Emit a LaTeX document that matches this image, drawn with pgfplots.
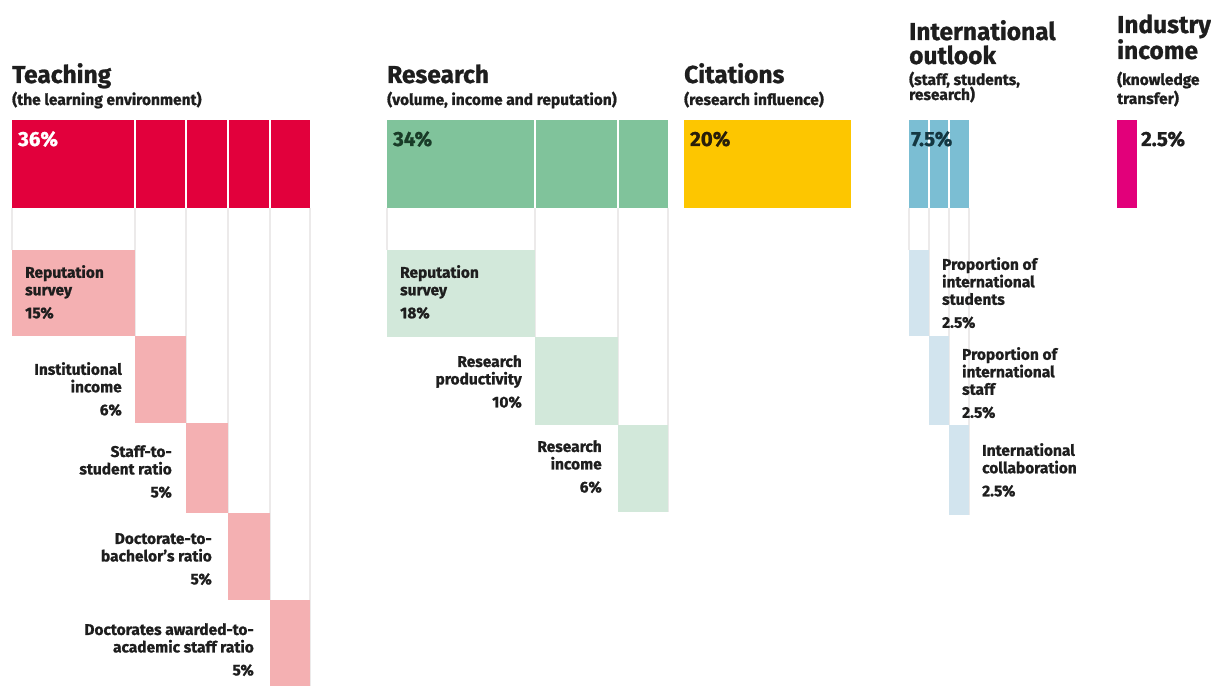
\documentclass[border=0pt]{standalone}
\usepackage{pgfplots}
\pgfplotsset{compat=1.18}
\usepackage{fontspec}
\setmainfont{Fira Sans}[BoldFeatures={FakeBold=1}]
\definecolor{tred}{RGB}{226,0,60}
\definecolor{tpink}{RGB}{244,176,178}
\definecolor{rgreen}{RGB}{128,195,155}
\definecolor{rlight}{RGB}{210,232,218}
\definecolor{cyel}{RGB}{253,198,0}
\definecolor{iblue}{RGB}{123,190,211}
\definecolor{ilight}{RGB}{210,228,238}
\definecolor{imag}{RGB}{226,0,122}
\definecolor{gridc}{RGB}{236,234,234}
\definecolor{txt}{RGB}{30,30,30}
\newcommand\tfont{\fontsize{24.5}{22}\selectfont\bfseries}
\newcommand\subfont{\fontsize{15.5}{16}\selectfont\bfseries}
\newcommand\lfont{\fontsize{15.5}{17.5}\selectfont\bfseries}
\newcommand\pfont{\fontsize{20.5}{20}\selectfont\bfseries}
% rectangle: x1 x2 y1 y2 colour
\newcommand\rect[5]{\addplot[fill=#5,draw=none] coordinates {(#1,#3) (#2,#3) (#2,#4) (#1,#4)} -- cycle;}
\begin{document}
\begin{tikzpicture}
\begin{axis}[width=1211pt,height=686pt,scale only axis,
  xmin=0,xmax=1211,ymin=0,ymax=686,y dir=reverse,hide axis,clip=false]
% grid lines below the main bars
\addplot[gridc,line width=1.2pt] coordinates {(12,208) (12,250)};
\addplot[gridc,line width=1.2pt] coordinates {(135,208) (135,336)};
\addplot[gridc,line width=1.2pt] coordinates {(186,208) (186,423)};
\addplot[gridc,line width=1.2pt] coordinates {(228,208) (228,513)};
\addplot[gridc,line width=1.2pt] coordinates {(270,208) (270,600)};
\addplot[gridc,line width=1.2pt] coordinates {(310,208) (310,686)};
\addplot[gridc,line width=1.2pt] coordinates {(387,208) (387,250)};
\addplot[gridc,line width=1.2pt] coordinates {(535,208) (535,337)};
\addplot[gridc,line width=1.2pt] coordinates {(618,208) (618,425)};
\addplot[gridc,line width=1.2pt] coordinates {(668,208) (668,512)};
\addplot[gridc,line width=1.2pt] coordinates {(909,208) (909,250)};
\addplot[gridc,line width=1.2pt] coordinates {(929,208) (929,336)};
\addplot[gridc,line width=1.2pt] coordinates {(949,208) (949,425)};
\addplot[gridc,line width=1.2pt] coordinates {(969,208) (969,515)};
% main bars
\rect{12}{310}{120}{208}{tred}
\rect{387}{668}{120}{208}{rgreen}
\rect{684}{851}{120}{208}{cyel}
\rect{909}{969}{120}{208}{iblue}
\rect{1117}{1137}{120}{208}{imag}
% separators in main bars
\addplot[white,line width=1.2pt] coordinates {(135,120) (135,208)};
\addplot[white,line width=1.2pt] coordinates {(186,120) (186,208)};
\addplot[white,line width=1.2pt] coordinates {(228,120) (228,208)};
\addplot[white,line width=1.2pt] coordinates {(270,120) (270,208)};
\addplot[white,line width=1.2pt] coordinates {(535,120) (535,208)};
\addplot[white,line width=1.2pt] coordinates {(618,120) (618,208)};
\addplot[white,line width=1.2pt] coordinates {(929,120) (929,208)};
\addplot[white,line width=1.2pt] coordinates {(949,120) (949,208)};
% teaching components
\rect{12}{135}{250}{336}{tpink}
\rect{135}{186}{336}{423}{tpink}
\rect{186}{228}{423}{513}{tpink}
\rect{228}{270}{513}{600}{tpink}
\rect{270}{310}{600}{686}{tpink}
% research components
\rect{387}{535}{250}{337}{rlight}
\rect{535}{618}{337}{425}{rlight}
\rect{618}{668}{425}{512}{rlight}
% international components
\rect{909}{929}{250}{336}{ilight}
\rect{929}{949}{336}{425}{ilight}
\rect{949}{969}{425}{515}{ilight}

% titles
\node[anchor=base west,font=\tfont,text=txt,inner sep=0] at (axis cs:12,83) {Teaching};
\node[anchor=base west,font=\subfont,text=txt,inner sep=0] at (axis cs:12,105) {(the learning environment)};
\node[anchor=base west,font=\tfont,text=txt,inner sep=0] at (axis cs:387,83) {Research};
\node[anchor=base west,font=\subfont,text=txt,inner sep=0] at (axis cs:387,105) {(volume, income and reputation)};
\node[anchor=base west,font=\tfont,text=txt,inner sep=0] at (axis cs:684,83) {Citations};
\node[anchor=base west,font=\subfont,text=txt,inner sep=0] at (axis cs:684,105) {(research influence)};
\node[anchor=base west,font=\tfont,text=txt,inner sep=0] at (axis cs:909,40) {International};
\node[anchor=base west,font=\tfont,text=txt,inner sep=0] at (axis cs:909,64) {outlook};
\node[anchor=base west,font=\subfont,text=txt,inner sep=0] at (axis cs:909,85) {(staff, students,};
\node[anchor=base west,font=\subfont,text=txt,inner sep=0] at (axis cs:909,100) {research)};
\node[anchor=base west,font=\tfont,text=txt,inner sep=0] at (axis cs:1117,33) {Industry};
\node[anchor=base west,font=\tfont,text=txt,inner sep=0] at (axis cs:1117,59) {income};
\node[anchor=base west,font=\subfont,text=txt,inner sep=0] at (axis cs:1117,85) {(knowledge};
\node[anchor=base west,font=\subfont,text=txt,inner sep=0] at (axis cs:1117,104) {transfer)};

% percentages in main bars
\node[anchor=base west,font=\pfont,text=white,inner sep=0] at (axis cs:18,146) {36\%};
\node[anchor=base west,font=\pfont,text={rgb,255:red,25;green,60;blue,40},inner sep=0] at (axis cs:393,146) {34\%};
\node[anchor=base west,font=\pfont,text={rgb,255:red,40;green,30;blue,10},inner sep=0] at (axis cs:690,146) {20\%};
\node[anchor=base west,font=\pfont,text={rgb,255:red,20;green,55;blue,65},inner sep=0] at (axis cs:911,146) {7.5\%};
\node[anchor=base west,font=\pfont,text=txt,inner sep=0] at (axis cs:1141,146) {2.5\%};

% teaching labels
\node[anchor=north west,align=left,font=\lfont,text=txt,inner sep=0] at (axis cs:25,265) {Reputation\\survey\\[5.5pt]15\%};
\node[anchor=north east,align=right,font=\lfont,text=txt,inner sep=0] at (axis cs:122,362) {Institutional\\income\\[5.5pt]6\%};
\node[anchor=north east,align=right,font=\lfont,text=txt,inner sep=0] at (axis cs:172,445) {Staff-to-\\student ratio\\[5.5pt]5\%};
\node[anchor=north east,align=right,font=\lfont,text=txt,inner sep=0] at (axis cs:212,533) {Doctorate-to-\\bachelor's ratio\\[5.5pt]5\%};
\node[anchor=north east,align=right,font=\lfont,text=txt,inner sep=0] at (axis cs:254,623) {Doctorates awarded-to-\\academic staff ratio\\[5.5pt]5\%};
% research labels
\node[anchor=north west,align=left,font=\lfont,text=txt,inner sep=0] at (axis cs:400,265) {Reputation\\survey\\[5.5pt]18\%};
\node[anchor=north east,align=right,font=\lfont,text=txt,inner sep=0] at (axis cs:522,355) {Research\\productivity\\[5.5pt]10\%};
\node[anchor=north east,align=right,font=\lfont,text=txt,inner sep=0] at (axis cs:602,440) {Research\\income\\[5.5pt]6\%};
% international labels
\node[anchor=north west,align=left,font=\lfont,text=txt,inner sep=0] at (axis cs:942,257) {Proportion of\\international\\students\\[5.5pt]2.5\%};
\node[anchor=north west,align=left,font=\lfont,text=txt,inner sep=0] at (axis cs:962,347) {Proportion of\\international\\staff\\[5.5pt]2.5\%};
\node[anchor=north west,align=left,font=\lfont,text=txt,inner sep=0] at (axis cs:982,443) {International\\collaboration\\[5.5pt]2.5\%};
\end{axis}
\useasboundingbox (current axis.south west) rectangle (current axis.north east);
\end{tikzpicture}
\end{document}
